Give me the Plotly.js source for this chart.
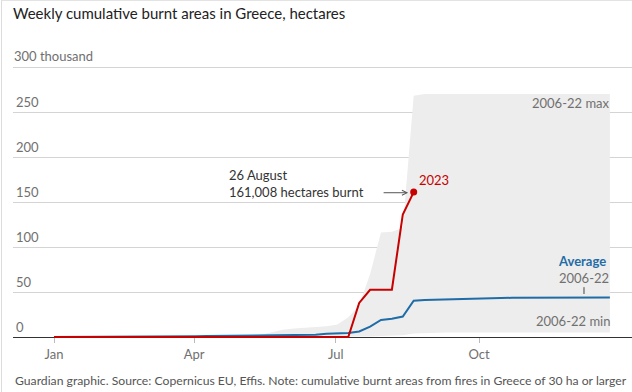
<!DOCTYPE html>
<html>
<head>
<meta charset="utf-8">
<script src="https://cdn.plot.ly/plotly-3.0.1.min.js"></script>
<style>
  html, body { margin: 0; padding: 0; background: #fff; }
  #frame { position: absolute; left: 1px; top: 0; width: 631px; height: 392px; border-left: 1px solid #dcdcdc; border-top: 1px solid #e3e3e3; box-sizing: border-box; pointer-events: none; z-index: 5; }
  #chart { position: absolute; left: 0; top: 0; width: 632px; height: 392px; }
</style>
</head>
<body>
<div id="chart"></div>
<div id="frame"></div>
<script>
// Week dates (first day of each week, 2023)
const weeks = [
  '2023-01-01','2023-01-08','2023-01-15','2023-01-22','2023-01-29','2023-02-05','2023-02-12','2023-02-19','2023-02-26',
  '2023-03-05','2023-03-12','2023-03-19','2023-03-26','2023-04-02','2023-04-09','2023-04-16','2023-04-23','2023-04-30',
  '2023-05-07','2023-05-14','2023-05-21','2023-05-28','2023-06-04','2023-06-11','2023-06-18','2023-06-25','2023-07-02',
  '2023-07-09','2023-07-16','2023-07-23','2023-07-30','2023-08-06','2023-08-13','2023-08-20','2023-08-27','2023-09-03',
  '2023-09-10','2023-09-17','2023-09-24','2023-10-01','2023-10-08','2023-10-15','2023-10-22','2023-10-29','2023-11-05',
  '2023-11-12','2023-11-19','2023-11-26','2023-12-03','2023-12-10','2023-12-17','2023-12-24'
];

// Cumulative burnt area, thousand hectares
const max0622 = [
  0,0,0,0,0,0,0,0,0,0,0,0,0,0,0,0,0,0,
  0.3,2.5,5,8,9.5,10.5,11,12,14,22,35,70,116,117,121,268,
  270,270,270,270,270,270,270,270,270,270,270,270,270,270,270,270,270,270
];
const min0622 = [
  0,0,0,0,0,0,0,0,0,0,0,0,0,0,0,0,0,0,0,0,0,0,0,0,0,0,0,0,0,
  0.5,1,1.5,2,4,4.5,5,5,5,5,5,5,5,5,5,5,5,5,5,5,5,5,5
];
const avg0622 = [
  0.1,0.1,0.2,0.2,0.3,0.3,0.4,0.4,0.5,0.5,
  0.6,0.7,0.8,0.9,1.0,1.1,1.2,1.3,
  1.4,1.5,1.6,1.7,1.8,1.9,2.5,3.5,4.0,4.5,6.2,11.5,19,20.3,22.8,40.3,
  41.2,41.5,42.5,42.9,43.1,43.2,43.3,43.4,43.5,43.5,43.6,43.6,43.7,43.7,43.7,43.8,43.8,43.8
];
const y2023 = [
  0,0,0,0,0,0,0,0,0,0,0,0,0,0,0,0,0,0,0,0,0,0,0,0,0,0,0,0,
  37.8,52.5,52.5,52.5,136,161.008
];

const yTickVals = [0,50,100,150,200,250,300];
const yTickText = ['0','50','100','150','200','250',''];
const yTopLabel = '300 thousand';
const xTickVals = ['2023-01-01','2023-04-01','2023-07-01','2023-10-01'];
const xTickText = ['Jan','Apr','Jul','Oct'];

const RED = '#c70000';
const BLUE = '#1f6ca6';
const GREY_TXT = '#707070';
const FONT = 'Lato, "Open Sans", sans-serif';

const x2023 = weeks.slice(0, y2023.length);
const lastX = x2023[x2023.length - 1];
const lastY = y2023[y2023.length - 1];

const Y_LO = -3.33, Y_HI = 320;
const PLOT_H = 291; // px

const traces = [
  { x: weeks, y: min0622, mode: 'lines', line: { width: 0, color: 'rgba(0,0,0,0)' }, hoverinfo: 'skip' },
  { x: weeks, y: max0622, mode: 'lines', line: { width: 0, color: 'rgba(0,0,0,0)' }, fill: 'tonexty', fillcolor: '#ededed', hoverinfo: 'skip' },
  { x: weeks, y: avg0622, mode: 'lines', line: { width: 2, color: BLUE } },
  { x: x2023, y: y2023, mode: 'lines', line: { width: 2, color: RED } },
  { x: [lastX], y: [lastY], mode: 'markers', marker: { size: 7, color: RED } }
];

const layout = {
  width: 632, height: 392,
  margin: { l: 13, r: 0, t: 49, b: 52 },
  paper_bgcolor: '#fff', plot_bgcolor: '#fff',
  showlegend: false, hovermode: false,
  font: { family: FONT, color: GREY_TXT, size: 13 },
  title: {
    text: 'Weekly cumulative burnt areas in Greece, hectares',
    x: 13/632, xanchor: 'left', xref: 'container',
    y: 1 - 14/392, yanchor: 'middle', yref: 'container',
    font: { family: FONT, size: 15, color: '#222' }
  },
  xaxis: {
    type: 'date',
    range: ['2022-12-05 16:00', '2024-01-07 05:00'],
    tickvals: xTickVals, ticktext: xTickText,
    showgrid: false, zeroline: false,
    anchor: 'free', position: -Y_LO/(Y_HI - Y_LO),
    showline: true, linecolor: '#333', linewidth: 1,
    ticks: 'outside', ticklen: 5, tickcolor: '#bbb', tickwidth: 1,
    tickfont: { family: FONT, size: 13, color: GREY_TXT },
    layer: 'below traces'
  },
  yaxis: {
    range: [Y_LO, Y_HI],
    tickvals: yTickVals, ticktext: yTickText,
    ticklabelposition: 'inside top',
    showgrid: true, gridcolor: '#d4d4d4', gridwidth: 1,
    zeroline: false, showline: false, ticks: '',
    tickfont: { family: FONT, size: 13, color: GREY_TXT },
    layer: 'below traces'
  },
  annotations: [
    { xref: 'paper', yref: 'y', x: 0, y: 311.8, xanchor: 'left', yanchor: 'middle', borderpad: 0,
      text: yTopLabel, showarrow: false, font: { family: FONT, size: 13, color: GREY_TXT } },
    { xref: 'paper', yref: 'y', x: 0.967, y: 260.3, xanchor: 'right', yanchor: 'middle',
      text: '2006-22 max', showarrow: false, font: { family: FONT, size: 13, color: GREY_TXT } },
    { xref: 'paper', yref: 'y', x: 0.967, y: 17.8, xanchor: 'right', yanchor: 'middle',
      text: '2006-22 min', showarrow: false, font: { family: FONT, size: 13, color: GREY_TXT } },
    { xref: 'paper', yref: 'y', x: 0.961, y: 84.8, xanchor: 'right', yanchor: 'middle',
      text: '<b>Average</b>', showarrow: false, font: { family: FONT, size: 13, color: BLUE } },
    { xref: 'x', yref: 'y', x: '2023-12-07 09:00', y: 47.8, ax: 0, ay: -16.3,
      text: '2006-22', showarrow: true, arrowhead: 0, arrowwidth: 1, arrowcolor: '#444',
      font: { family: FONT, size: 13, color: GREY_TXT } },
    { xref: 'paper', yref: 'y', x: (417-13)/619, y: 174.4, xanchor: 'left', yanchor: 'middle',
      text: '2023', showarrow: false, font: { family: FONT, size: 13, color: RED } },
    { xref: 'paper', yref: 'y', x: (227-13)/619, y: 170.8, xanchor: 'left', yanchor: 'middle', align: 'left',
      text: '26 August<br>161,008 hectares burnt', showarrow: false, font: { family: FONT, size: 13, color: '#333' } },
    { xref: 'x', yref: 'y', x: '2023-08-16 10:00', y: 160.3, ax: -26, ay: 0,
      text: '', showarrow: true, arrowhead: 5, arrowsize: 1, arrowwidth: 1, arrowcolor: '#555' },
    { xref: 'paper', yref: 'paper', x: 0, y: (340-380)/PLOT_H, xanchor: 'left', yanchor: 'middle',
      text: 'Guardian graphic. Source: Copernicus EU, Effis. Note: cumulative burnt areas from fires in Greece of 30 ha or larger',
      showarrow: false, font: { family: FONT, size: 12.2, color: '#555' } }
  ]
};

Plotly.newPlot('chart', traces, layout, { displayModeBar: false, staticPlot: true });
</script>
</body>
</html>
